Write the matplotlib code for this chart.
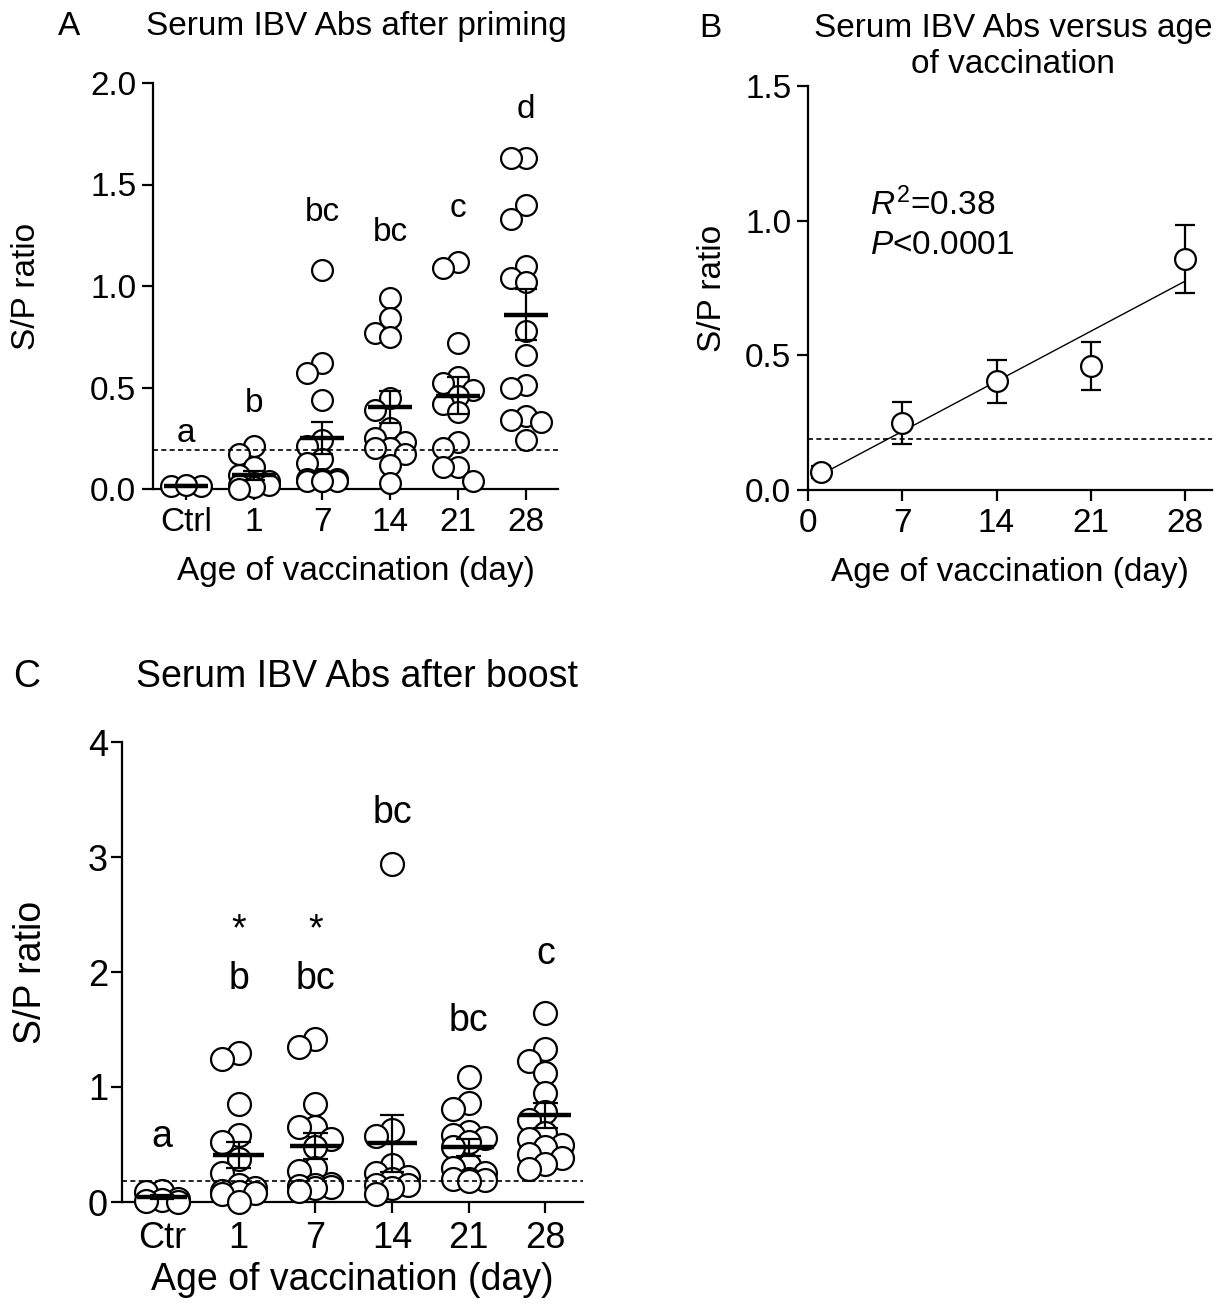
import numpy as np
import matplotlib
matplotlib.use('Agg')
import matplotlib.pyplot as plt

plt.rcParams['font.family'] = ['Liberation Sans', 'DejaVu Sans']
plt.rcParams['mathtext.fontset'] = 'custom'
plt.rcParams['mathtext.rm'] = 'Liberation Sans'
plt.rcParams['mathtext.it'] = 'Liberation Sans:italic'

# --- panel A: serum S/P ratio after priming (individual birds) ---
groups_a = ['Ctrl', '1', '7', '14', '21', '28']
prime_ctrl = [0.015, 0.015, 0.02]
prime_d1 = [0.21, 0.17, 0.11, 0.07, 0.04, 0.03, 0.02, 0.02, 0.01, 0.0]
prime_d7 = [1.08, 0.62, 0.57, 0.44, 0.24, 0.21, 0.15, 0.13, 0.05, 0.05,
            0.05, 0.04, 0.04, 0.04, 0.04]
prime_d14 = [0.94, 0.84, 0.77, 0.75, 0.45, 0.39, 0.30, 0.25, 0.23, 0.20,
             0.20, 0.17, 0.12, 0.03]
prime_d21 = [1.12, 1.09, 0.72, 0.55, 0.52, 0.49, 0.46, 0.42, 0.38, 0.23,
             0.20, 0.11, 0.11, 0.04]
prime_d28 = [1.63, 1.63, 1.40, 1.33, 1.10, 1.04, 1.02, 0.78, 0.66, 0.51,
             0.50, 0.36, 0.34, 0.33, 0.24]
letters_a = ['a', 'b', 'bc', 'bc', 'c', 'd']
letter_y_a = [0.23, 0.38, 1.32, 1.22, 1.34, 1.83]

# --- panel B: age of vaccination in days ---
vacc_days = [1, 7, 14, 21, 28]
r2_text = '$R^2$=0.38'
p_text = '$P$<0.0001'

# --- panel C: after boost ---
groups_c = ['Ctr', '1', '7', '14', '21', '28']
boost_ctrl = [0.10, 0.09, 0.03, 0.02, 0.01, 0.0]
boost_d1 = [1.30, 1.24, 0.85, 0.58, 0.52, 0.37, 0.25, 0.15, 0.12, 0.10,
            0.09, 0.08, 0.07, 0.0]
boost_d7 = [1.42, 1.35, 0.85, 0.65, 0.65, 0.55, 0.48, 0.30, 0.27, 0.16,
            0.15, 0.14, 0.13, 0.12, 0.10]
boost_d14 = [2.94, 0.63, 0.57, 0.32, 0.25, 0.22, 0.20, 0.15, 0.15, 0.12, 0.07]
boost_d21 = [1.09, 0.86, 0.81, 0.61, 0.58, 0.56, 0.52, 0.48, 0.32, 0.30,
             0.25, 0.20, 0.20, 0.19, 0.18]
boost_d28 = [1.64, 1.33, 1.23, 1.12, 0.95, 0.78, 0.71, 0.60, 0.55, 0.50,
             0.48, 0.42, 0.38, 0.33, 0.29]
letters_c = ['a', 'b', 'bc', 'bc', 'bc', 'c']
letter_y_c = [0.48, 1.85, 1.85, 3.30, 1.49, 2.07]
star_groups = [1, 2]
star_y = 2.28

cutoff = 0.19
cutoff_c = 0.18

prime = [prime_ctrl, prime_d1, prime_d7, prime_d14, prime_d21, prime_d28]
boost = [boost_ctrl, boost_d1, boost_d7, boost_d14, boost_d21, boost_d28]


def sem(v):
    v = np.asarray(v, dtype=float)
    return v.std(ddof=1) / np.sqrt(len(v))


def swarm(ax, vals, diam_px):
    # prism-like column scatter: spread points sideways in 3 slots
    p0, p1 = ax.transData.transform([(0, 0), (1, 1)])
    ppx, ppy = p1 - p0
    slot = 0.7 * diam_px / ppx
    vals = np.asarray(vals, dtype=float)
    offs = np.zeros(len(vals))
    placed = []
    for i in np.argsort(-vals, kind='stable'):
        y = vals[i] * ppy
        best, best_d = 0, -1
        for s in [0, -1, 1]:
            d = min([abs(py - y) for ps, py in placed if ps == s], default=1e9)
            if d >= 0.75 * diam_px:
                best = s
                break
            if d > best_d:
                best, best_d = s, d
        placed.append((best, y))
        offs[i] = best * slot
    return offs


def style(ax, fs, pad, xpad):
    for s in ['top', 'right']:
        ax.spines[s].set_visible(False)
    for s in ['left', 'bottom']:
        ax.spines[s].set_linewidth(1.6)
    ax.tick_params(direction='out', length=8, width=1.6, labelsize=fs, pad=pad)
    ax.tick_params(axis='x', pad=xpad)


def column_plot(ax, data, labels, letters, letter_y, ms, fs, diam_px, cut):
    for i, vals in enumerate(data):
        offs = swarm(ax, vals, diam_px)
        ax.plot(i + offs, vals, 'o', ms=ms, mfc='white', mec='black', mew=1.6,
                zorder=3, clip_on=False)
        m, e = np.mean(vals), sem(vals)
        ax.hlines(m, i - 0.33, i + 0.33, colors='black', lw=3.2, zorder=5)
        ax.vlines(i, m - e, m + e, colors='black', lw=1.6, zorder=5)
        ax.hlines([m - e, m + e], i - 0.16, i + 0.16, colors='black', lw=1.6, zorder=5)
        ax.text(i, letter_y[i], letters[i], ha='center', va='baseline', fontsize=fs)
    ax.axhline(cut, color='black', lw=1.2, dashes=(3, 2), zorder=4)
    ax.set_xticks(range(len(labels)))
    ax.set_xticklabels(labels)


fig = plt.figure(figsize=(12.22, 13.10), dpi=100)
W, H = 1222, 1310


def add_axes_px(left, top, right, bottom):
    return fig.add_axes([left / W, 1 - bottom / H, (right - left) / W, (bottom - top) / H])


fs_ab = 24
fs_c = 27

# panel A
axA = add_axes_px(153, 83, 558, 489)
axA.set_xlim(-0.485, 5.47)
axA.set_ylim(0, 2.0)
axA.set_yticks([0, 0.5, 1.0, 1.5, 2.0])
axA.set_yticklabels(['0.0', '0.5', '1.0', '1.5', '2.0'])
style(axA, fs_ab, 4, 5)
column_plot(axA, prime, groups_a, letters_a, letter_y_a, 15, fs_ab, 21, cutoff)
axA.set_ylabel('S/P ratio', fontsize=fs_ab)
axA.yaxis.set_label_coords(-0.274, 0.5)
axA.set_xlabel('Age of vaccination (day)', fontsize=fs_ab)
axA.xaxis.set_label_coords(0.5, -0.165)
fig.text(69 / W, 1 - 35 / H, 'A', fontsize=fs_ab, ha='center', va='baseline')
fig.text(356 / W, 1 - 35 / H, 'Serum IBV Abs after priming', fontsize=fs_ab,
         ha='center', va='baseline')

# panel B
axB = add_axes_px(808, 86, 1212, 490)
axB.set_xlim(0, 30)
axB.set_ylim(0, 1.5)
axB.set_xticks([0, 7, 14, 21, 28])
axB.set_yticks([0, 0.5, 1.0, 1.5])
axB.set_yticklabels(['0.0', '0.5', '1.0', '1.5'])
style(axB, fs_ab, 4, 5)
means = [np.mean(v) for v in prime[1:]]
sems = [sem(v) for v in prime[1:]]
xs = np.concatenate([[d] * len(v) for d, v in zip(vacc_days, prime[1:])])
ys = np.concatenate(prime[1:])
slope, icpt = np.polyfit(xs, ys, 1)
fit_x = np.array([vacc_days[0], vacc_days[-1]])
axB.plot(fit_x, icpt + slope * fit_x, color='black', lw=1.0, zorder=2)
axB.errorbar(vacc_days, means, yerr=sems, fmt='none', ecolor='black', elinewidth=1.6,
             capsize=7.5, capthick=1.6, zorder=3)
axB.plot(vacc_days, means, 'o', ms=15, mfc='white', mec='black', mew=1.6, zorder=4,
         clip_on=False)
axB.axhline(cutoff, color='black', lw=1.2, dashes=(3, 2), zorder=1)
axB.text(4.6, 1.02, r2_text, fontsize=fs_ab, va='baseline')
axB.text(4.6, 0.876, p_text, fontsize=fs_ab, va='baseline')
axB.set_ylabel('S/P ratio', fontsize=fs_ab)
axB.yaxis.set_label_coords(-0.198, 0.5)
axB.set_xlabel('Age of vaccination (day)', fontsize=fs_ab)
axB.xaxis.set_label_coords(0.5, -0.165)
fig.text(710 / W, 1 - 37 / H, 'B', fontsize=fs_ab, ha='center', va='baseline')
fig.text(1013 / W, 1 - 37 / H, 'Serum IBV Abs versus age', fontsize=fs_ab,
         ha='center', va='baseline')
fig.text(1013 / W, 1 - 73 / H, 'of vaccination', fontsize=fs_ab,
         ha='center', va='baseline')

# panel C
axC = add_axes_px(122, 742, 583, 1202)
axC.set_xlim(-0.52, 5.49)
axC.set_ylim(0, 4)
axC.set_yticks([0, 1, 2, 3, 4])
style(axC, 26, 2, 6)
column_plot(axC, boost, groups_c, letters_c, letter_y_c, 16.5, fs_c, 23, cutoff_c)
for g in star_groups:
    axC.text(g, star_y, '*', ha='center', va='baseline', fontsize=fs_c)
axC.set_ylabel('S/P ratio', fontsize=fs_c)
axC.yaxis.set_label_coords(-0.158, 0.5)
axC.set_xlabel('Age of vaccination (day)', fontsize=fs_c)
axC.xaxis.set_label_coords(0.5, -0.13)
fig.text(27 / W, 1 - 687 / H, 'C', fontsize=fs_c, ha='center', va='baseline')
fig.text(357 / W, 1 - 687 / H, 'Serum IBV Abs after boost', fontsize=fs_c,
         ha='center', va='baseline')

fig.savefig('out.png', dpi=100)
